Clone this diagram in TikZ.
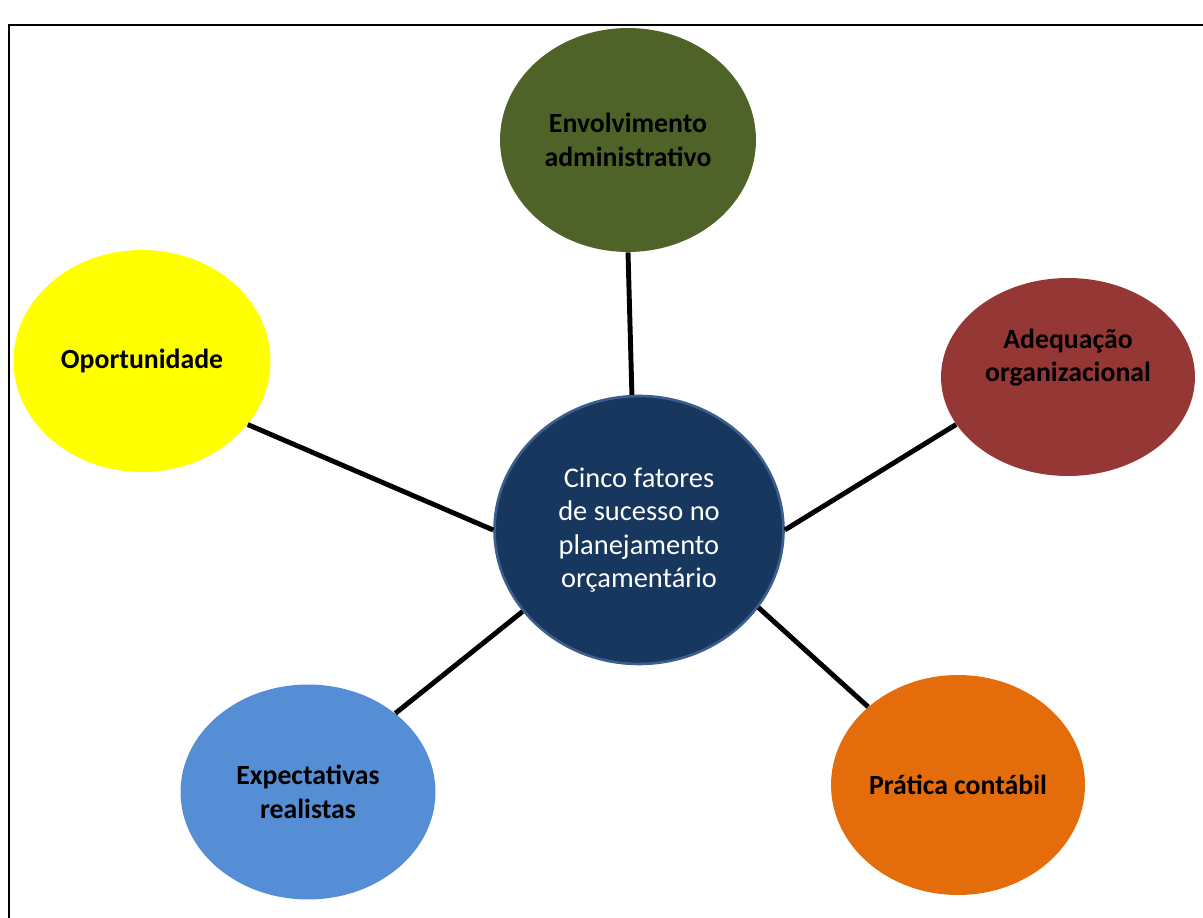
\documentclass[tikz,border=0pt]{standalone}
\usepackage{fontspec}
\setmainfont{Carlito}
\usetikzlibrary{shapes.geometric}
\definecolor{verdeoliva}{HTML}{4F6228}
\definecolor{vinho}{HTML}{953735}
\definecolor{azulclaro}{HTML}{558ED5}
\definecolor{laranja}{HTML}{E46C0A}
\definecolor{amarelo}{HTML}{FFFF00}
\definecolor{azulescuro}{HTML}{17375E}
\definecolor{azulborda}{HTML}{3B5E8C}

\begin{document}
\begin{tikzpicture}[x=0.02cm, y=-0.02cm]
    \tikzstyle{fator} = [ellipse, text centered, align=center, inner sep=0pt,
        font=\bfseries\fontsize{15.8}{19}\selectfont]
    \tikzstyle{ligacao} = [line width=2.8pt]
    \useasboundingbox (0,0) rectangle (1203,918);
    \draw[line width=1.6pt] (9,918) -- (9,25) -- (1203,25);
    \node [fator, fill=verdeoliva, minimum width=5.12cm, minimum height=4.48cm] at (628,140) (envolvimento) {Envolvimento\\administrativo};
    \node [fator, fill=amarelo, minimum width=5.14cm, minimum height=4.44cm] at (142,361) (oportunidade) {Oportunidade};
    \node [fator, fill=vinho, minimum width=5.08cm, minimum height=3.96cm] at (1068,377) (adequacao) {Adequação\\organizacional\\[6pt]};
    \node [fator, fill=azulclaro, minimum width=5.1cm, minimum height=4.3cm] at (308,792) (expectativas) {Expectativas\\realistas};
    \node [fator, fill=laranja, minimum width=5.08cm, minimum height=4.4cm] at (958,785) (pratica) {Prática contábil};
    \node [ellipse, draw=azulborda, line width=1.5pt, fill=azulescuro, text=white, align=center,
        minimum width=5.78cm, minimum height=5.36cm, font=\fontsize{16.2}{19}\selectfont] at (639,530) (centro) {Cinco fatores\\de sucesso no\\planejamento\\orçamentário};
    \draw[ligacao] (centro.93) -- (envolvimento.270);
    \draw[ligacao] (centro.180) -- (oportunidade.-31);
    \draw[ligacao] (centro.0) -- (adequacao.203);
    \draw[ligacao] (centro.215) -- (expectativas.42);
    \draw[ligacao] (centro.-33) -- (pratica.139);
\end{tikzpicture}
\end{document}
